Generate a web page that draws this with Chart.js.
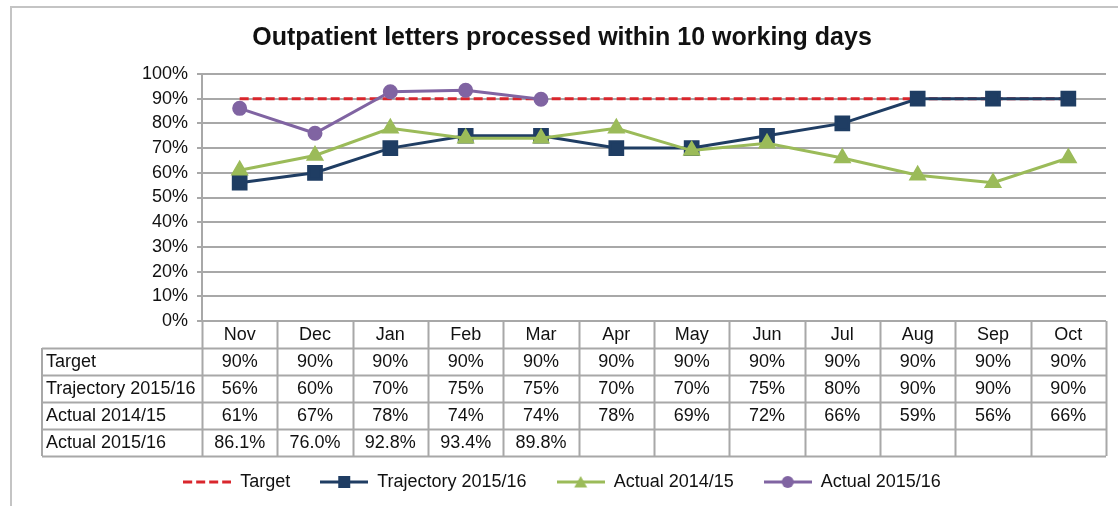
<!DOCTYPE html>
<html>
<head>
<meta charset="utf-8">
<script src="https://cdn.jsdelivr.net/npm/chart.js@4.4.1/dist/chart.umd.min.js"></script>
<style>
  body { margin: 0; background: #fff; }
  #wrap { width: 1118px; height: 506px; }
</style>
</head>
<body>
<div id="wrap"><canvas id="chart" width="1118" height="506"></canvas></div>
<script>
const months = ['Nov', 'Dec', 'Jan', 'Feb', 'Mar', 'Apr', 'May', 'Jun', 'Jul', 'Aug', 'Sep', 'Oct'];
const target = [90, 90, 90, 90, 90, 90, 90, 90, 90, 90, 90, 90];
const trajectory = [56, 60, 70, 75, 75, 70, 70, 75, 80, 90, 90, 90];
const actual1415 = [61, 67, 78, 74, 74, 78, 69, 72, 66, 59, 56, 66];
const actual1516 = [86.1, 76.0, 92.8, 93.4, 89.8, null, null, null, null, null, null, null];
const yTickLabels = ['0%', '10%', '20%', '30%', '40%', '50%', '60%', '70%', '80%', '90%', '100%'];

const seriesNames = ['Target', 'Trajectory 2015/16', 'Actual 2014/15', 'Actual 2015/16'];
const seriesDecimals = [0, 0, 0, 1];

const RED = '#d9262c';
const NAVY = '#1f3d63';
const GREEN = '#9bbb59';
const PURPLE = '#8064a2';
const GRID = '#a8a8a8';
const FONT = "'Liberation Sans', Arial, sans-serif";

// little legend pictures: line with marker in the middle
function makeIcon(color, dashed, marker) {
  const c = document.createElement('canvas');
  c.width = 48; c.height = 18;
  const g = c.getContext('2d');
  g.strokeStyle = color;
  g.fillStyle = color;
  g.lineWidth = 3;
  if (dashed) g.setLineDash([9, 4]);
  g.beginPath();
  g.moveTo(0, 9); g.lineTo(48, 9);
  g.stroke();
  g.setLineDash([]);
  if (marker === 'rect') {
    g.fillRect(18, 3, 12, 12);
  } else if (marker === 'triangle') {
    g.beginPath();
    g.moveTo(24, 3); g.lineTo(30.5, 14.5); g.lineTo(17.5, 14.5);
    g.closePath(); g.fill();
  } else if (marker === 'circle') {
    g.beginPath();
    g.arc(24, 9, 6, 0, Math.PI * 2);
    g.fill();
  }
  return c;
}
const icons = [
  makeIcon(RED, true, null),
  makeIcon(NAVY, false, 'rect'),
  makeIcon(GREEN, false, 'triangle'),
  makeIcon(PURPLE, false, 'circle')
];

const seriesData = [target, trajectory, actual1415, actual1516];

// data table under the x axis + outer frame
const tablePlugin = {
  id: 'dataTable',
  beforeDraw(chart) {
    const ctx = chart.ctx;
    ctx.save();
    ctx.strokeStyle = '#c4c4c4';
    ctx.lineWidth = 2;
    ctx.strokeRect(11, 7, 1130, 520);
    ctx.restore();
  },
  afterDraw(chart) {
    const ctx = chart.ctx;
    const x = chart.scales.x;
    const area = chart.chartArea;
    const colW = (area.right - area.left) / months.length;
    const rowH = 27;
    const top = area.bottom;
    const labelLeft = 42;
    const nRows = seriesNames.length;
    const bottom = top + rowH * (nRows + 1);

    ctx.save();
    ctx.strokeStyle = GRID;
    ctx.lineWidth = 2;
    ctx.beginPath();
    // vertical lines of month columns
    for (let i = 0; i <= months.length; i++) {
      const px = Math.round(area.left + i * colW) + 0.5;
      ctx.moveTo(px, top);
      ctx.lineTo(px, bottom);
    }
    ctx.moveTo(labelLeft, top + rowH);
    ctx.lineTo(labelLeft, bottom);
    for (let r = 1; r <= nRows + 1; r++) {
      const py = Math.round(top + r * rowH) + 0.5;
      ctx.moveTo(labelLeft, py);
      ctx.lineTo(area.right, py);
    }
    ctx.stroke();

    ctx.fillStyle = '#111';
    ctx.font = '18px ' + FONT;
    ctx.textBaseline = 'middle';
    ctx.textAlign = 'center';
    months.forEach((m, i) => {
      ctx.fillText(m, x.getPixelForValue(i), top + rowH / 2 + 1);
    });
    seriesNames.forEach((name, r) => {
      const cy = top + rowH * (r + 1) + rowH / 2 + 1;
      ctx.textAlign = 'left';
      ctx.fillText(name, labelLeft + 4, cy);
      ctx.textAlign = 'center';
      seriesData[r].forEach((v, i) => {
        if (v === null) return;
        ctx.fillText(v.toFixed(seriesDecimals[r]) + '%', x.getPixelForValue(i), cy);
      });
    });
    ctx.restore();
  }
};

const ctx = document.getElementById('chart').getContext('2d');
const chart = new Chart(ctx, {
  type: 'line',
  data: {
    labels: months,
    datasets: [
      {
        label: seriesNames[0],
        data: target,
        borderColor: RED,
        backgroundColor: RED,
        borderWidth: 3,
        borderDash: [9, 4],
        pointRadius: 0,
        order: 4
      },
      {
        label: seriesNames[1],
        data: trajectory,
        borderColor: NAVY,
        backgroundColor: NAVY,
        borderWidth: 3,
        pointStyle: 'rect',
        pointRadius: 9,
        order: 3
      },
      {
        label: seriesNames[2],
        data: actual1415,
        borderColor: GREEN,
        backgroundColor: GREEN,
        borderWidth: 3,
        pointStyle: 'triangle',
        pointRadius: 7.5,
        order: 2
      },
      {
        label: seriesNames[3],
        data: actual1516,
        borderColor: PURPLE,
        backgroundColor: PURPLE,
        borderWidth: 3,
        pointStyle: 'circle',
        pointRadius: 6,
        order: 1
      }
    ]
  },
  options: {
    responsive: false,
    animation: false,
    layout: {
      padding: { left: 11, right: 5, top: 7, bottom: 5 }
    },
    plugins: {
      title: {
        display: true,
        text: 'Outpatient letters processed within 10 working days',
        color: '#111',
        font: { family: FONT, size: 25, weight: 'bold' },
        padding: { top: 16, bottom: 21 }
      },
      legend: {
        position: 'bottom',
        labels: {
          color: '#111',
          font: { family: FONT, size: 18 },
          usePointStyle: true,
          pointStyleWidth: 48,
          padding: 30,
          generateLabels(chart) {
            const items = Chart.defaults.plugins.legend.labels.generateLabels(chart);
            items.forEach(it => { it.pointStyle = icons[it.datasetIndex]; });
            return items.sort((a, b) => a.datasetIndex - b.datasetIndex);
          }
        }
      },
      tooltip: { enabled: false }
    },
    scales: {
      x: {
        offset: true,
        grid: { display: false },
        border: { display: false },
        ticks: { display: false },
        afterFit(scale) { scale.height = 122; }
      },
      y: {
        min: 0,
        max: 100,
        ticks: {
          stepSize: 10,
          padding: 9,
          color: '#111',
          font: { family: FONT, size: 18 },
          callback: (v, i) => yTickLabels[i]
        },
        grid: { color: GRID, lineWidth: 2, tickLength: 5 },
        border: { display: true, color: GRID, width: 2 },
        afterFit(scale) { scale.width = 191; }
      }
    }
  },
  plugins: [tablePlugin]
});
</script>
</body>
</html>
